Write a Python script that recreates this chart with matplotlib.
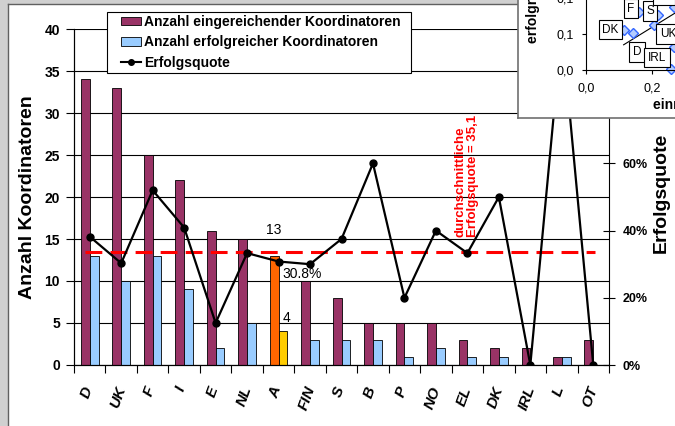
'''
Koordinatoren je Land: eingereicht, erfolgreich und Erfolgsquote
'''
import numpy as np
import matplotlib
matplotlib.use('Agg')
import matplotlib.pyplot as plt
import matplotlib.transforms as mtransforms
from matplotlib.patches import Patch, Rectangle
from matplotlib.lines import Line2D

plt.rcParams['font.family'] = ['Liberation Sans', 'DejaVu Sans']

# Data
countries = ['D', 'UK', 'F', 'I', 'E', 'NL', 'A', 'FIN', 'S', 'B', 'P',
             'NO', 'EL', 'DK', 'IRL', 'L', 'OT']
submitted = [34, 33, 25, 22, 16, 15, 13, 10, 8, 5, 5, 5, 3, 2, 2, 1, 3]
successful = [13, 10, 13, 9, 2, 5, 4, 3, 3, 3, 1, 2, 1, 1, 0, 1, 0]
quote = [0.382, 0.303, 0.520, 0.409, 0.125, 0.333, 0.308, 0.300, 0.375,
         0.600, 0.200, 0.400, 0.333, 0.500, 0.0, 1.0, 0.0]
avg_quote = 0.336
highlight = 'A'

# Inset scatter (cut off in the screenshot)
inset_x = [0.161, 0.218, 0.114, 0.143, 0.206, 0.257, 0.267, 0.267]
inset_y = [0.080, 0.077, 0.056, 0.052, 0.062, 0.001, 0.032, 0.088]
inset_labels = ['F', 'S', 'EL', 'DK', 'UK', 'D', 'IRL']
inset_lab_x = [0.136, 0.194, 0.236, 0.074, 0.248, 0.155, 0.215]
inset_lab_y = [0.085, 0.082, 0.104, 0.056, 0.050, 0.025, 0.017]
trend_x = [0.114, 0.45]
trend_y = [0.035, 0.130]

W, H = 675, 426


def fx(px):
    return px / W


def fy(py):
    return 1 - py / H


fig = plt.figure(figsize=(W / 100, H / 100), dpi=100, facecolor='#D0D0D0')

# white chart area with dark border (drawn behind all axes)
bg = fig.add_axes([fx(8), fy(440), fx(700), (440 - 4) / H], zorder=-5)
bg.set_facecolor('white')
bg.set_xticks([])
bg.set_yticks([])
for s in bg.spines.values():
    s.set_color('#606060')
    s.set_linewidth(1.0)

ax = fig.add_axes([fx(74), fy(365), fx(609 - 74), (365 - 29) / H])
ax.set_facecolor('none')
ax2 = ax.twinx()

idx = np.arange(len(countries))
bw = 0.28
col_sub = ['#FF6600' if c == highlight else '#993366' for c in countries]
col_suc = ['#FFCC00' if c == highlight else '#99CCFF' for c in countries]
ax.bar(idx - bw / 2, submitted, bw, color=col_sub, edgecolor='black', lw=0.6, zorder=2)
ax.bar(idx + bw / 2, successful, bw, color=col_suc, edgecolor='black', lw=0.6, zorder=2)

ax.set_xlim(-0.5, len(countries) - 0.5)
ax.set_ylim(0, 40)
ax.set_yticks(np.arange(0, 41, 5))
ax.yaxis.grid(True, color='black', lw=0.8)
ax.set_axisbelow(True)
ax.tick_params(axis='y', direction='out', length=6, width=0.8, pad=4,
               labelsize=10)
for t in ax.get_yticklabels():
    t.set_fontweight('bold')

# category boundaries as ticks, names centered in between
ax.set_xticks(np.arange(-0.5, len(countries), 1.0))
ax.set_xticklabels([])
ax.tick_params(axis='x', which='major', direction='out', length=6, width=0.8)
ax.set_xticks(idx, minor=True)
ax.set_xticklabels(countries, minor=True, rotation=70, fontsize=11,
                   fontweight='bold', style='italic', ha='center', va='top')
ax.tick_params(axis='x', which='minor', length=0, pad=14)
shift = mtransforms.ScaledTranslation(-3 / 100, 0, fig.dpi_scale_trans)
for t in ax.get_xticklabels(minor=True):
    t.set_transform(t.get_transform() + shift)

ax.spines['top'].set_visible(False)
ax2.spines['top'].set_visible(False)
ax.spines['right'].set_visible(False)

ax2.plot(idx, quote, color='black', lw=1.6, marker='o', markersize=5, zorder=4)
ax2.plot([-0.15, 16.05], [avg_quote, avg_quote], color='#FF0000', lw=2.2,
         linestyle=(0, (5.5, 2.7)), zorder=3)
ax2.set_ylim(0, 1.0)
ax2.set_yticks(np.arange(0, 1.01, 0.2))
ax2.set_yticklabels(['%d%%' % round(v * 100) for v in np.arange(0, 1.01, 0.2)])
ax2.tick_params(axis='y', direction='inout', length=8, width=0.8, pad=6,
                labelsize=9)
for t in ax2.get_yticklabels():
    t.set_fontweight('bold')

# annotations
ax.text(5.85, 16.1, '13', fontsize=10, ha='center', va='center', zorder=5)
ax.text(6.26, 5.6, '4', fontsize=10, ha='center', va='center', zorder=5)
ax.text(6.74, 10.8, '30.8%', fontsize=10, ha='center', va='center', zorder=5)
ax.text(11.98, 15.2, 'durchschnittliche\nErfolgsquote = 35,1', color='#FF0000',
        fontsize=9.5, fontweight='bold', rotation=90, ha='center', va='bottom',
        multialignment='left', linespacing=1.05, zorder=5)

fig.text(fx(28), fy(197), 'Anzahl Koordinatoren', rotation=90, fontsize=14,
         fontweight='bold', ha='center', va='center')
fig.text(fx(661), fy(193), 'Erfolgsquote', rotation=90, fontsize=14,
         fontweight='bold', ha='center', va='center')

# legend: frame drawn by hand so it matches the original box
ax2.add_patch(Rectangle((fx(107), fy(73)), fx(411 - 107), (73 - 12) / H,
                        transform=fig.transFigure, facecolor='white',
                        edgecolor='black', lw=0.8, zorder=9, clip_on=False))
handles = [Patch(facecolor='#993366', edgecolor='black', lw=0.6),
           Patch(facecolor='#99CCFF', edgecolor='black', lw=0.6),
           Line2D([], [], color='black', lw=1.5, marker='o', markersize=4)]
labels = ['Anzahl eingereichender Koordinatoren',
          'Anzahl erfolgreicher Koordinatoren', 'Erfolgsquote']
leg = ax2.legend(handles, labels, loc='upper left',
                 bbox_to_anchor=(fx(121), fy(15)), bbox_transform=fig.transFigure,
                 frameon=False, prop={'weight': 'bold', 'size': 10},
                 handlelength=1.45, handleheight=0.55, handletextpad=0.2,
                 labelspacing=0.45, borderpad=0, borderaxespad=0)
leg.set_zorder(10)

# inset chart pasted over the upper right corner
box = fig.add_axes([fx(518), fy(118), fx(690 - 518), (118 + 10) / H], zorder=5)
box.set_facecolor('white')
box.set_xticks([])
box.set_yticks([])
for s in box.spines.values():
    s.set_color('#707070')
    s.set_linewidth(1.2)

axi = fig.add_axes([fx(586), fy(70), fx(164), 120 / H], zorder=6)
axi.set_facecolor('none')
axi.set_xlim(0, 164 / 330)
axi.set_ylim(0, 120 / 720)
axi.spines['top'].set_visible(False)
axi.spines['right'].set_visible(False)
axi.set_xticks([0, 0.2, 0.4])
axi.set_xticklabels(['0,0', '0,2', '0,4'])
axi.set_yticks([0, 0.05, 0.1])
axi.set_yticklabels(['0,0', '0,1', '0,1'])
axi.tick_params(direction='out', length=3, width=0.8, labelsize=9, pad=6)
axi.plot(trend_x, trend_y, color='black', lw=0.8)
axi.plot(inset_x, inset_y, linestyle='none', marker='D', markersize=5,
         markerfacecolor='#B3CCFF', markeredgecolor='#3366FF', clip_on=False)
for lab, x, y in zip(inset_labels, inset_lab_x, inset_lab_y):
    axi.text(x, y, lab, fontsize=8.5, ha='center', va='center',
             bbox=dict(boxstyle='square,pad=0.3', facecolor='white',
                       edgecolor='black', lw=0.8))
axi.text(-53 / 330, 27 / 720, 'erfolgreiche Koordinatoren', rotation=90,
         fontsize=10, fontweight='bold', ha='center', va='bottom')
axi.text(67 / 330, -35 / 720, 'einreichende Koordinatoren', fontsize=10,
         fontweight='bold', ha='left', va='center')

plt.savefig('out.png', dpi=100, facecolor=fig.get_facecolor())
